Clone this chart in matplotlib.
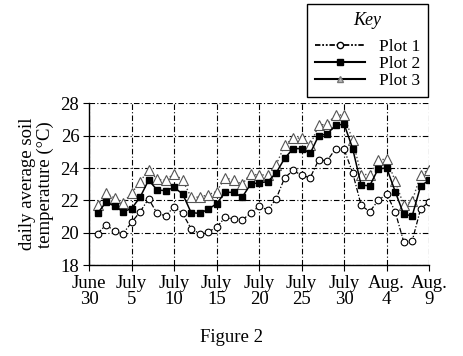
"""Daily average soil temperature, three plots, June 30 - Aug. 9."""
import matplotlib

matplotlib.use("Agg")
import matplotlib.pyplot as plt  # noqa: E402
from matplotlib.lines import Line2D  # noqa: E402

plt.rcParams["font.family"] = ["Liberation Serif", "DejaVu Serif"]

# days after June 30
days = list(range(1, 41))

plot1 = [19.95, 20.5, 20.1, 19.95, 20.65, 21.3, 22.1, 21.2, 21.05, 21.6,
         21.2, 20.25, 19.95, 20.05, 20.35, 20.95, 20.85, 20.8, 21.2, 21.65,
         21.4, 22.1, 23.4, 23.85, 23.55, 23.4, 24.5, 24.45, 25.2, 25.15,
         23.7, 21.7, 21.3, 22.0, 22.4, 21.3, 19.45, 19.5, 21.5, 21.9]
plot2 = [21.2, 21.9, 21.65, 21.3, 21.5, 22.2, 23.25, 22.65, 22.6, 22.8,
         22.4, 21.25, 21.2, 21.45, 21.8, 22.5, 22.5, 22.2, 23.0, 23.1,
         23.15, 23.7, 24.6, 25.2, 25.2, 24.9, 26.0, 26.1, 26.65, 26.7,
         25.2, 22.95, 22.9, 23.95, 24.0, 22.55, 21.15, 21.05, 22.9, 23.25]
plot3 = [21.7, 22.45, 22.15, 21.85, 22.45, 23.15, 23.9, 23.3, 23.25, 23.65,
         23.25, 22.2, 22.2, 22.35, 22.55, 23.4, 23.25, 23.0, 23.65, 23.55,
         23.6, 24.2, 25.4, 25.85, 25.85, 25.4, 26.65, 26.7, 27.3, 27.25,
         25.7, 23.6, 23.6, 24.5, 24.55, 23.2, 21.7, 21.95, 23.6, 23.9]

tick_days = [0, 5, 10, 15, 20, 25, 30, 35, 40]
tick_labels = ["June\n30", "July\n5", "July\n10", "July\n15", "July\n20",
               "July\n25", "July\n30", "Aug.\n4", "Aug.\n9"]
y_ticks = [18, 20, 22, 24, 26, 28]

fig = plt.figure(figsize=(4.64, 3.56), dpi=100)
ax = fig.add_axes([0.192, 0.255, 0.733, 0.455])

dashdot = (0, (4, 1.5, 1, 1.5))
ax.plot(days, plot1, color="black", linestyle=dashdot, linewidth=0.9,
        marker="o", markersize=4.8, markerfacecolor="white",
        markeredgecolor="black", markeredgewidth=0.8, zorder=3)
ax.plot(days, plot2, color="black", linestyle="-", linewidth=1.1,
        marker="s", markersize=5, markerfacecolor="black",
        markeredgecolor="black", zorder=4)
ax.plot(days, plot3, color="#444444", linestyle=":", linewidth=1.0,
        marker="^", markersize=6.5, markerfacecolor="white",
        markeredgecolor="#555555", markeredgewidth=0.8, zorder=2)

ax.set_xlim(0, 40)
ax.set_ylim(18, 28)
ax.set_xticks(tick_days)
ax.set_xticklabels(tick_labels, linespacing=0.95)
ax.set_yticks(y_ticks)
ax.tick_params(direction="out", length=4, width=0.8, labelsize=13.5, pad=3,
               colors="black")
ax.grid(True, color="black", linestyle=(0, (5, 2, 1, 2)), linewidth=0.8)
ax.set_axisbelow(True)
for side in ("top", "right"):
    ax.spines[side].set_visible(False)
for side in ("left", "bottom"):
    ax.spines[side].set_linewidth(1.0)

ax.set_ylabel("daily average soil\ntemperature (\u00b0C)", fontsize=13.5,
              linespacing=1.0, labelpad=5)

# key: Plot 3 drawn solid in the key, as in the original
handles = [
    Line2D([], [], color="black", linestyle=(0, (3, 1, 1, 1, 1, 1)),
           linewidth=1.3, marker="o", markersize=4.5,
           markerfacecolor="white", markeredgecolor="black"),
    Line2D([], [], color="black", linewidth=1.5, marker="s", markersize=5,
           markerfacecolor="black"),
    Line2D([], [], color="black", linewidth=1.5, marker="^", markersize=5,
           markerfacecolor="#bbbbbb", markeredgecolor="#777777"),
]
leg = fig.legend(handles, ["Plot 1", "Plot 2", "Plot 3"],
                 loc="upper right", bbox_to_anchor=(428 / 464, 1 - 4 / 356),
                 title="Key", fontsize=12.5, title_fontsize=13,
                 frameon=True, fancybox=False, edgecolor="black",
                 framealpha=1, handlelength=2.9, handletextpad=0.8,
                 labelspacing=0.05, borderpad=0.45, borderaxespad=0)
leg.get_title().set_fontstyle("italic")
leg.get_frame().set_linewidth(1.0)
leg._legend_box.sep = 7  # a bit more room under "Key"

fig.text(0.5, 1 - 338 / 356, "Figure 2", ha="center", va="center",
         fontsize=13.5)

fig.savefig("out.png", dpi=100)
